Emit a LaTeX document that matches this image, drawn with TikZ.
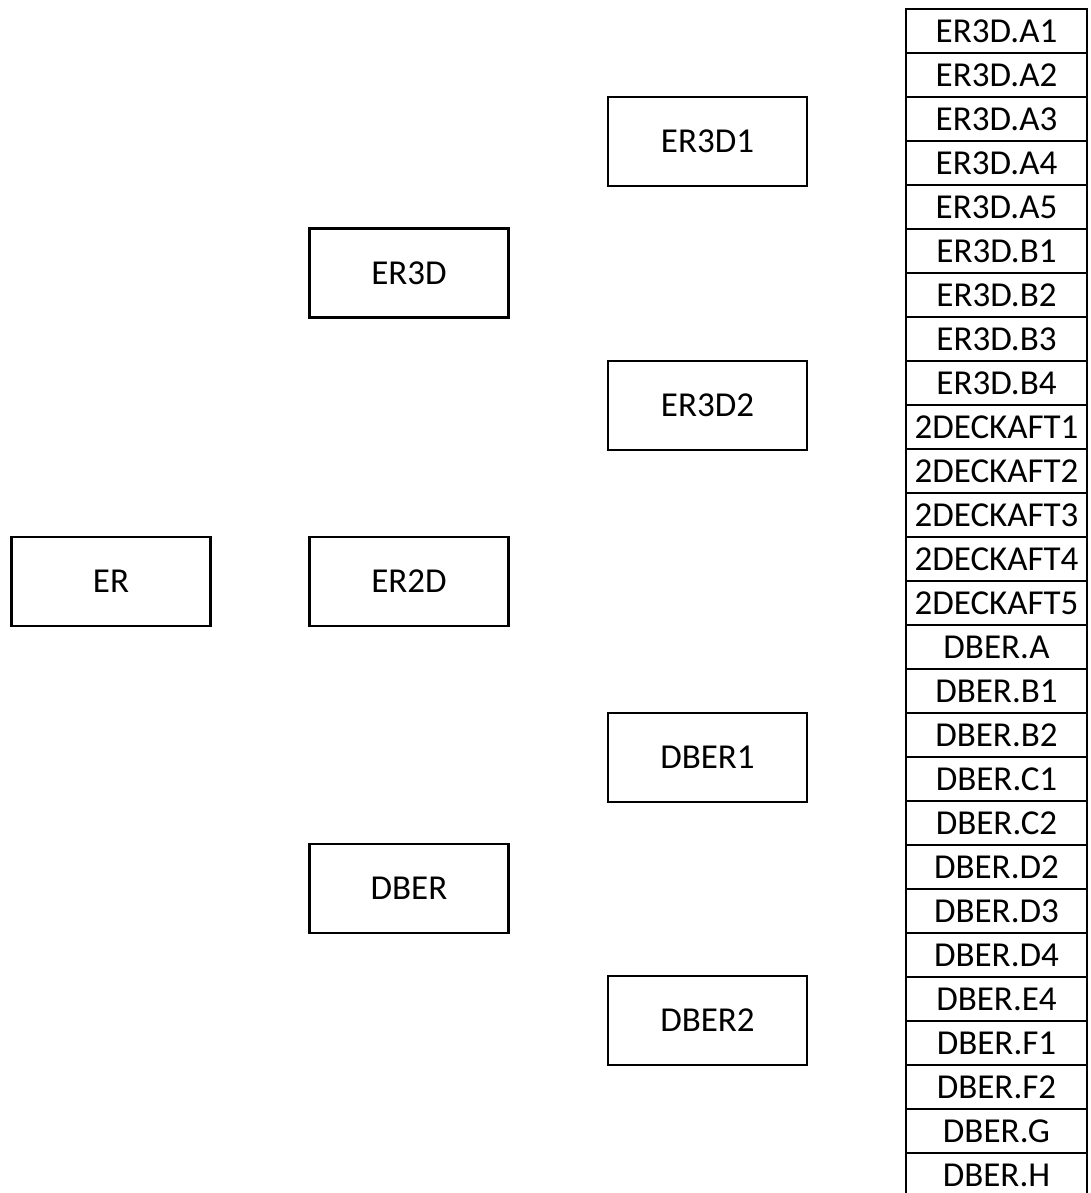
\documentclass[tikz,border=0pt]{standalone}
\usepackage{fontspec}
\setmainfont{Carlito}
\begin{document}
\begin{tikzpicture}[x=1pt,y=-1pt,
  treebox/.style={draw=black,line width=2.4pt,minimum width=199pt,minimum height=89pt,inner sep=0pt,font=\fontsize{35}{38}\selectfont},
  rowbox/.style={draw=black,line width=2.2pt,minimum width=181pt,minimum height=44pt,inner sep=0pt,font=\fontsize{35}{37}\selectfont}]
\clip (0,0) rectangle (1090,1193);
\useasboundingbox (0,0) rectangle (1090,1193);
\node[treebox] (er) at (111,581.5) {ER};
\node[treebox] (er2d) at (409,581.5) {ER2D};
\node[treebox] (er3d) at (409,273) {ER3D};
\node[treebox] (dber) at (409,888.5) {DBER};
\node[treebox] (er3d1) at (707.5,141.5) {ER3D1};
\node[treebox] (er3d2) at (707.5,405.5) {ER3D2};
\node[treebox] (dber1) at (707.5,757.5) {DBER1};
\node[treebox] (dber2) at (707.5,1020.5) {DBER2};
\foreach \t [count=\i from 0] in {ER3D.A1,ER3D.A2,ER3D.A3,ER3D.A4,ER3D.A5,ER3D.B1,ER3D.B2,ER3D.B3,ER3D.B4,2DECKAFT1,2DECKAFT2,2DECKAFT3,2DECKAFT4,2DECKAFT5,DBER.A,DBER.B1,DBER.B2,DBER.C1,DBER.C2,DBER.D2,DBER.D3,DBER.D4,DBER.E4,DBER.F1,DBER.F2,DBER.G,DBER.H}
  \node[rowbox] (row\i) at (996.5,{31+44*\i}) {\t};
\end{tikzpicture}
\end{document}
